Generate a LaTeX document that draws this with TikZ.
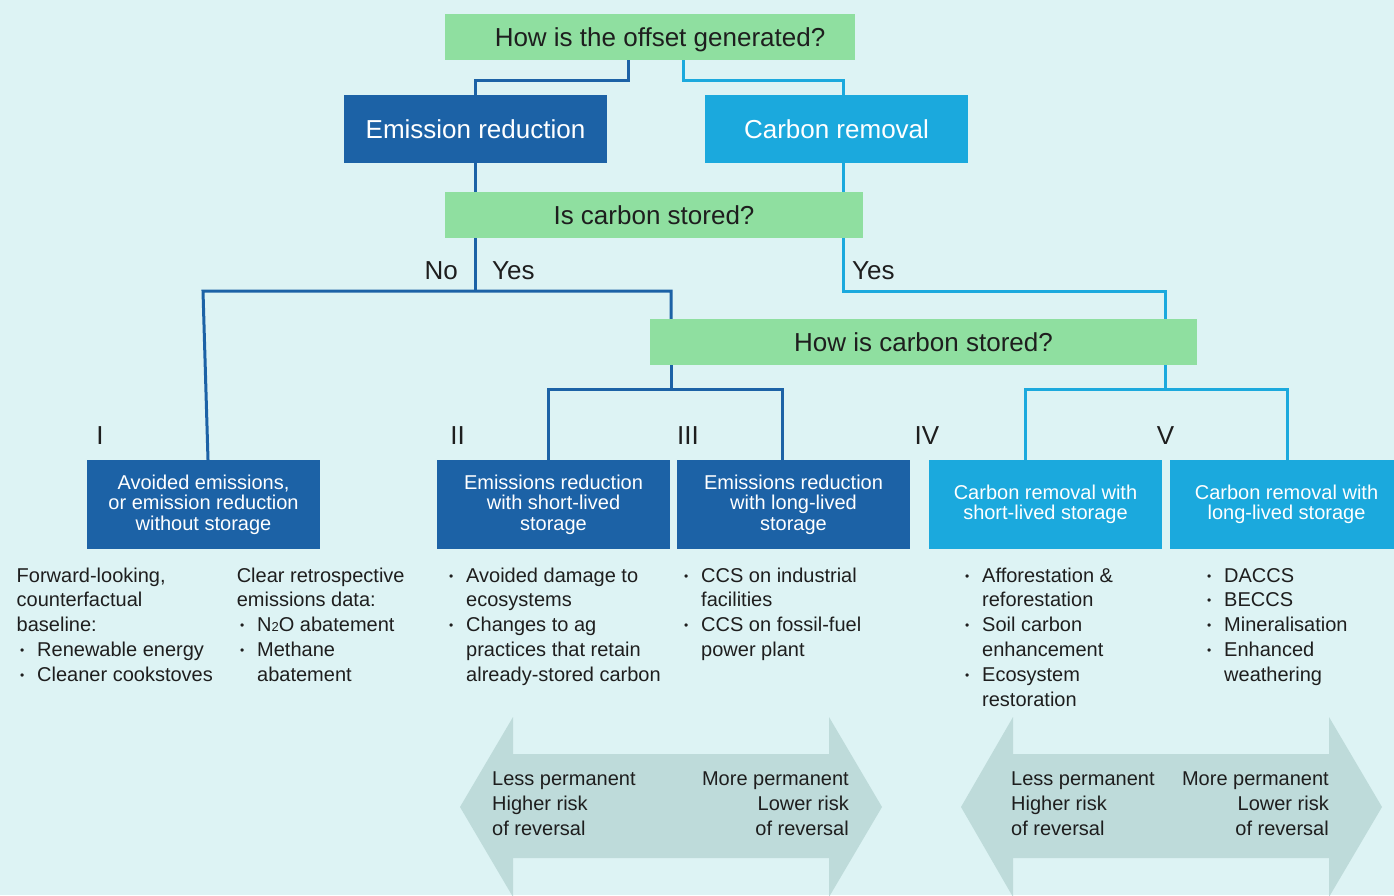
\documentclass[tikz,border=0pt]{standalone}
\usepackage{fontspec}
\setmainfont{Liberation Sans}
\definecolor{bgc}{HTML}{DDF3F4}
\definecolor{dkblue}{HTML}{1C62A6}
\definecolor{ltblue}{HTML}{1BA9DD}
\definecolor{qgreen}{HTML}{8FDFA0}
\definecolor{arrowc}{HTML}{BEDBDA}
\definecolor{txt}{HTML}{1E1E1E}
\newcommand\bl{\makebox[17pt][l]{\fontsize{12}{12}\selectfont\raisebox{2pt}{•}}}
\newcommand\ind{\hspace*{17pt}}
\begin{document}
\begin{tikzpicture}[x=1pt,y=-1pt,
  box/.style={inner sep=0, minimum width=233, minimum height=89, align=center, font=\fontsize{20}{20.5}\selectfont, text=white},
  dkbox/.style={box, fill=dkblue},
  ltbox/.style={box, fill=ltblue},
  qbox/.style={fill=qgreen, inner sep=0, minimum height=46, text height=18.6, text depth=0, font=\fontsize{26}{26}\selectfont, text=txt},
  bigbox/.style={inner sep=0, minimum width=263, minimum height=68, text height=18.6, text depth=0, font=\fontsize{26}{26}\selectfont, text=white},
  dk/.style={draw=dkblue, line width=3},
  lt/.style={draw=ltblue, line width=3},
  lbl/.style={font=\fontsize{26}{26}\selectfont, text=txt, inner sep=0},
  lst/.style={anchor=base west, align=left, inner sep=0, font=\fontsize{20}{24.8}\selectfont, text=txt},
  atl/.style={anchor=base west, align=left, inner sep=0, font=\fontsize{20}{25}\selectfont, text=txt},
  atr/.style={anchor=base east, align=right, inner sep=0, font=\fontsize{20}{25}\selectfont, text=txt},
]
\useasboundingbox (0,0) rectangle (1394,895);
\fill[bgc] (0,0) rectangle (1394,895);

% arrows
\fill[arrowc] (460,807) -- (513,717) -- (513,754) -- (829,754) -- (829,717) -- (882,807) -- (829,897) -- (829,858) -- (513,858) -- (513,897) -- cycle;
\fill[arrowc] (961,807) -- (1013,717) -- (1013,754) -- (1329,754) -- (1329,717) -- (1382,807) -- (1329,897) -- (1329,858) -- (1013,858) -- (1013,897) -- cycle;

% question boxes
\node[qbox, minimum width=410] (q1) at (650,37) {\hspace*{20pt}How is the offset generated?};
\node[qbox, minimum width=418] (q2) at (654,215) {Is carbon stored?};
\node[qbox, minimum width=547] (q3) at (923.5,342) {How is carbon stored?};

% category boxes
\node[bigbox, fill=dkblue] (er) at (475.5,129) {Emission reduction};
\node[bigbox, fill=ltblue] (cr) at (836.5,129) {Carbon removal};

% result boxes
\node[dkbox] (b1) at (203.5,504.5) {Avoided emissions,\\or emission reduction\\without storage};
\node[dkbox] (b2) at (553.5,504.5) {Emissions reduction\\with short-lived\\storage};
\node[dkbox] (b3) at (793.5,504.5) {Emissions reduction\\with long-lived\\storage};
\node[ltbox] (b4) at (1045.5,504.5) {Carbon removal with\\short-lived storage};
\node[ltbox] (b5) at (1286.5,504.5) {Carbon removal with\\long-lived storage};

% connectors
\draw[dk] ([xshift=-22pt]q1.south) -- ++(0,20) -| (er.north);
\draw[lt] ([xshift=33pt]q1.south) -- ++(0,20) -| ([xshift=6.5pt]cr.north);
\draw[dk] (er.south) -- (er.south |- q2.north);
\draw[lt] ([xshift=6.5pt]cr.south) -- ([xshift=6.5pt]cr.south |- q2.north);

\coordinate (j1) at (475.5,291);
\coordinate (jl) at (203,291);
\coordinate (jr) at (671,291);
\draw[dk] (q2.south -| j1) -- (j1);
\draw[dk] ([xshift=4.5pt]b1.north) -- (jl) -- (jr) -- (jr |- q3.north);
\coordinate (k1) at (843,291);
\coordinate (k2) at (1165,291);
\draw[lt] (q2.south -| k1) -- (k1) -- (k2) -- (k2 |- q3.north);

\coordinate (j2) at (671,389);
\coordinate (d2) at (548,389);
\coordinate (d3) at (782,389);
\draw[dk] (q3.south -| j2) -- (j2);
\draw[dk] (d2 |- b2.north) -- (d2) -- (d3) -- (d3 |- b3.north);
\coordinate (k3) at (1165,389);
\coordinate (d4) at (1025,389);
\coordinate (d5) at (1287,389);
\draw[lt] (q3.south -| k3) -- (k3);
\draw[lt] (d4 |- b4.north) -- (d4) -- (d5) -- (d5 |- b5.north);

% labels
\node[lbl, anchor=base east] (no) at (458,279) {No};
\node[lbl, anchor=base west] (yes1) at (492,279) {Yes};
\node[lbl, anchor=base west] (yes2) at (852,279) {Yes};
\node[lbl, anchor=base] (r1) at (100,444) {I};
\node[lbl, anchor=base] (r2) at (457.5,444) {II};
\node[lbl, anchor=base] (r3) at (688,444) {III};
\node[lbl, anchor=base] (r4) at (927,444) {IV};
\node[lbl, anchor=base] (r5) at (1165.5,444) {V};

% lists (anchor = baseline of last line)
\node[lst] (t1) at (16.5,681.2) {Forward-looking,\\counterfactual\\baseline:\\\hspace*{3.5pt}\bl Renewable energy\\\hspace*{3.5pt}\bl Cleaner cookstoves};
\node[lst] (t2) at (236.6,681.2) {Clear retrospective\\emissions data:\\\hspace*{3.4pt}\bl N{\fontsize{13}{13}\selectfont 2}O abatement\\\hspace*{3.4pt}\bl Methane\\\hspace*{3.4pt}\ind abatement};
\node[lst] (t3) at (449,681.2) {\bl Avoided damage to\\\ind ecosystems\\\bl Changes to ag\\\ind practices that retain\\\ind already-stored carbon};
\node[lst] (t4) at (684,656.4) {\bl CCS on industrial\\\ind facilities\\\bl CCS on fossil-fuel\\\ind power plant};
\node[lst] (t5) at (965,706) {\bl Afforestation \&\\\ind reforestation\\\bl Soil carbon\\\ind enhancement\\\bl Ecosystem\\\ind restoration};
\node[lst] (t6) at (1207,681.2) {\bl DACCS\\\bl BECCS\\\bl Mineralisation\\\bl Enhanced\\\ind weathering};

% arrow texts
\node[atl] (a1l) at (492,835) {Less permanent\\Higher risk\\of reversal};
\node[atr] (a1r) at (849,835) {More permanent\\Lower risk\\of reversal};
\node[atl] (a2l) at (1011,835) {Less permanent\\Higher risk\\of reversal};
\node[atr] (a2r) at (1329,835) {More permanent\\Lower risk\\of reversal};
\end{tikzpicture}
\end{document}
